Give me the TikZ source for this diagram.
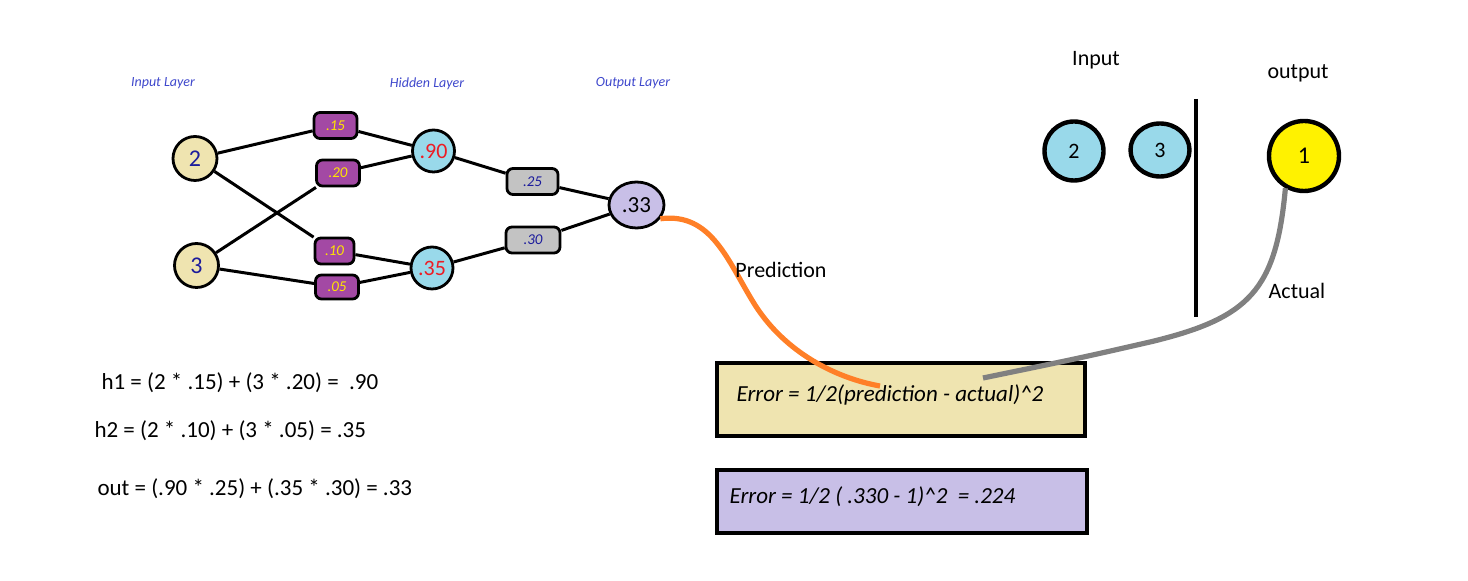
\documentclass[tikz,border=0pt]{standalone}
\usepackage{fontspec}
\setmainfont{Carlito}
\usetikzlibrary{shapes.geometric}
\definecolor{wheat}{HTML}{EFE4B0}
\definecolor{wpurple}{HTML}{A349A4}
\definecolor{wyellow}{HTML}{FFE600}
\definecolor{hblue}{HTML}{99D9EA}
\definecolor{hred}{HTML}{ED1C24}
\definecolor{wgrey}{HTML}{C3C3C3}
\definecolor{lavender}{HTML}{C8BFE7}
\definecolor{tyellow}{HTML}{FFF200}
\definecolor{lblue}{HTML}{3F48CC}
\definecolor{navytext}{HTML}{1C1C9C}
\definecolor{porange}{HTML}{FF7F27}
\definecolor{agrey}{HTML}{808080}

\begin{document}
\begin{tikzpicture}[x=0.5pt, y=-0.5pt, line width=1.5pt]
	\tikzstyle{neuron}=[circle, draw, line width=1.4pt, inner sep=0pt]
	\tikzstyle{inputnode}=[neuron, fill=wheat, minimum size=22pt, text=navytext, font=\fontsize{12}{14}\selectfont]
	\tikzstyle{hiddennode}=[neuron, fill=hblue, minimum size=21pt, text=hred, font=\fontsize{11}{13}\selectfont]
	\tikzstyle{outputnode}=[neuron, ellipse, fill=lavender, minimum width=27.5pt, minimum height=23pt, font=\fontsize{11.5}{13}\selectfont]
	\tikzstyle{weight}=[draw, rounded corners=3pt, line width=1.4pt, fill=wpurple, text=wyellow, minimum width=21.5pt, minimum height=13pt, inner sep=0pt, font=\fontsize{7.5}{8}\selectfont\itshape]
	\tikzstyle{weighttwo}=[weight, fill=wgrey, text=navytext, minimum width=26pt]
	\tikzstyle{layerlabel}=[text=lblue, font=\fontsize{7}{8}\selectfont\itshape]
	\tikzstyle{plain}=[font=\fontsize{11}{13}\selectfont]
	\tikzstyle{sample}=[neuron, line width=2.2pt, font=\fontsize{11}{13}\selectfont]
	\tikzstyle{errorbox}=[draw, line width=2.3pt, inner sep=0pt]
	\tikzstyle{formula}=[anchor=west, inner sep=0pt, font=\fontsize{11.5}{14}\selectfont]
	\useasboundingbox (0,0) rectangle (1468,581);

	\node[layerlabel] (lin) at (163,83) {Input Layer};
	\node[layerlabel] (lhid) at (427,84) {Hidden Layer};
	\node[layerlabel] (lout) at (633,83) {Output Layer};

	\node[inputnode] (i1) at (195,158.5) {2};
	\node[inputnode] (i2) at (196.5,265.5) {3};
	\node[weight] (w15) at (335.5,125.5) {.15};
	\node[weight] (w20) at (338,173) {.20};
	\node[weight, minimum width=19.5pt] (w10) at (334.5,251) {.10};
	\node[weight, minimum height=12pt] (w05) at (337,287) {.05};
	\node[hiddennode] (h1) at (433.5,151) {.90};
	\node[hiddennode] (h2) at (432,268) {.35};
	\node[weighttwo, minimum width=25.5pt] (w25) at (532.5,181.5) {.25};
	\node[weighttwo, minimum width=27pt] (w30) at (533,240) {.30};
	\node[outputnode] (o) at (636.5,205) {.33};

	\draw (i1) -- (w15) -- (h1);
	\draw (i2) -- (w20) -- (h1);
	\draw (i1) -- (w10) -- (h2);
	\draw (i2) -- (w05) -- (h2);
	\draw (h1) -- (w25) -- (o);
	\draw (h2) -- (w30) -- (o);

	\node[formula] (f1) at (100,383) {h1 = (2 * .15) + (3 * .20) = \ .90};
	\node[formula] (f2) at (93,431) {h2 = (2 * .10) + (3 * .05) = .35};
	\node[formula] (f3) at (96,489) {out = (.90 * .25) + (.35 * .30) = .33};

	\node[plain] (tin) at (1096,60) {Input};
	\node[plain] (tout) at (1298,73) {output};
	\node[sample, fill=hblue, minimum size=29.5pt] (s1) at (1074,151) {2};
	\node[sample, ellipse, fill=hblue, minimum width=29.5pt, minimum height=26.5pt] (s2) at (1160,150) {3};
	\node[sample, fill=tyellow, minimum size=35pt, font=\fontsize{12}{14}\selectfont] (tgt) at (1304,156) {1};
	\draw[line width=2.2pt] (1196,99) -- (1196,317);

	\node[errorbox, fill=wheat, minimum width=184pt, minimum height=36.5pt] (e1) at (901,399.5) {};
	\node[errorbox, fill=lavender, minimum width=185pt, minimum height=31.5pt] (e2) at (902,501.5) {};
	\node[formula] (t1) at (735,395) {\itshape Error = 1/2(prediction - actual)\^{}2};
	\node[formula] (t2) at (728,497) {\itshape Error = 1/2 ( .330 - 1)\^{}2 \ = .224};

	\coordinate (pred) at (880,386);
	\coordinate (act) at (983,378);
	\draw[porange, line width=2.6pt] (o.-30) .. controls (712,212) and (728,262) .. (755,305) .. controls (785,352) and (835,378) .. (pred);
	\draw[agrey, line width=2.6pt] (tgt.-120) .. controls (1276,290) and (1250,318) .. (1150,342) .. controls (1080,358) .. (act);
	\node[plain] (lpred) at (781,270) {Prediction};
	\node[plain] (lact) at (1297,291) {Actual};
\end{tikzpicture}
\end{document}
